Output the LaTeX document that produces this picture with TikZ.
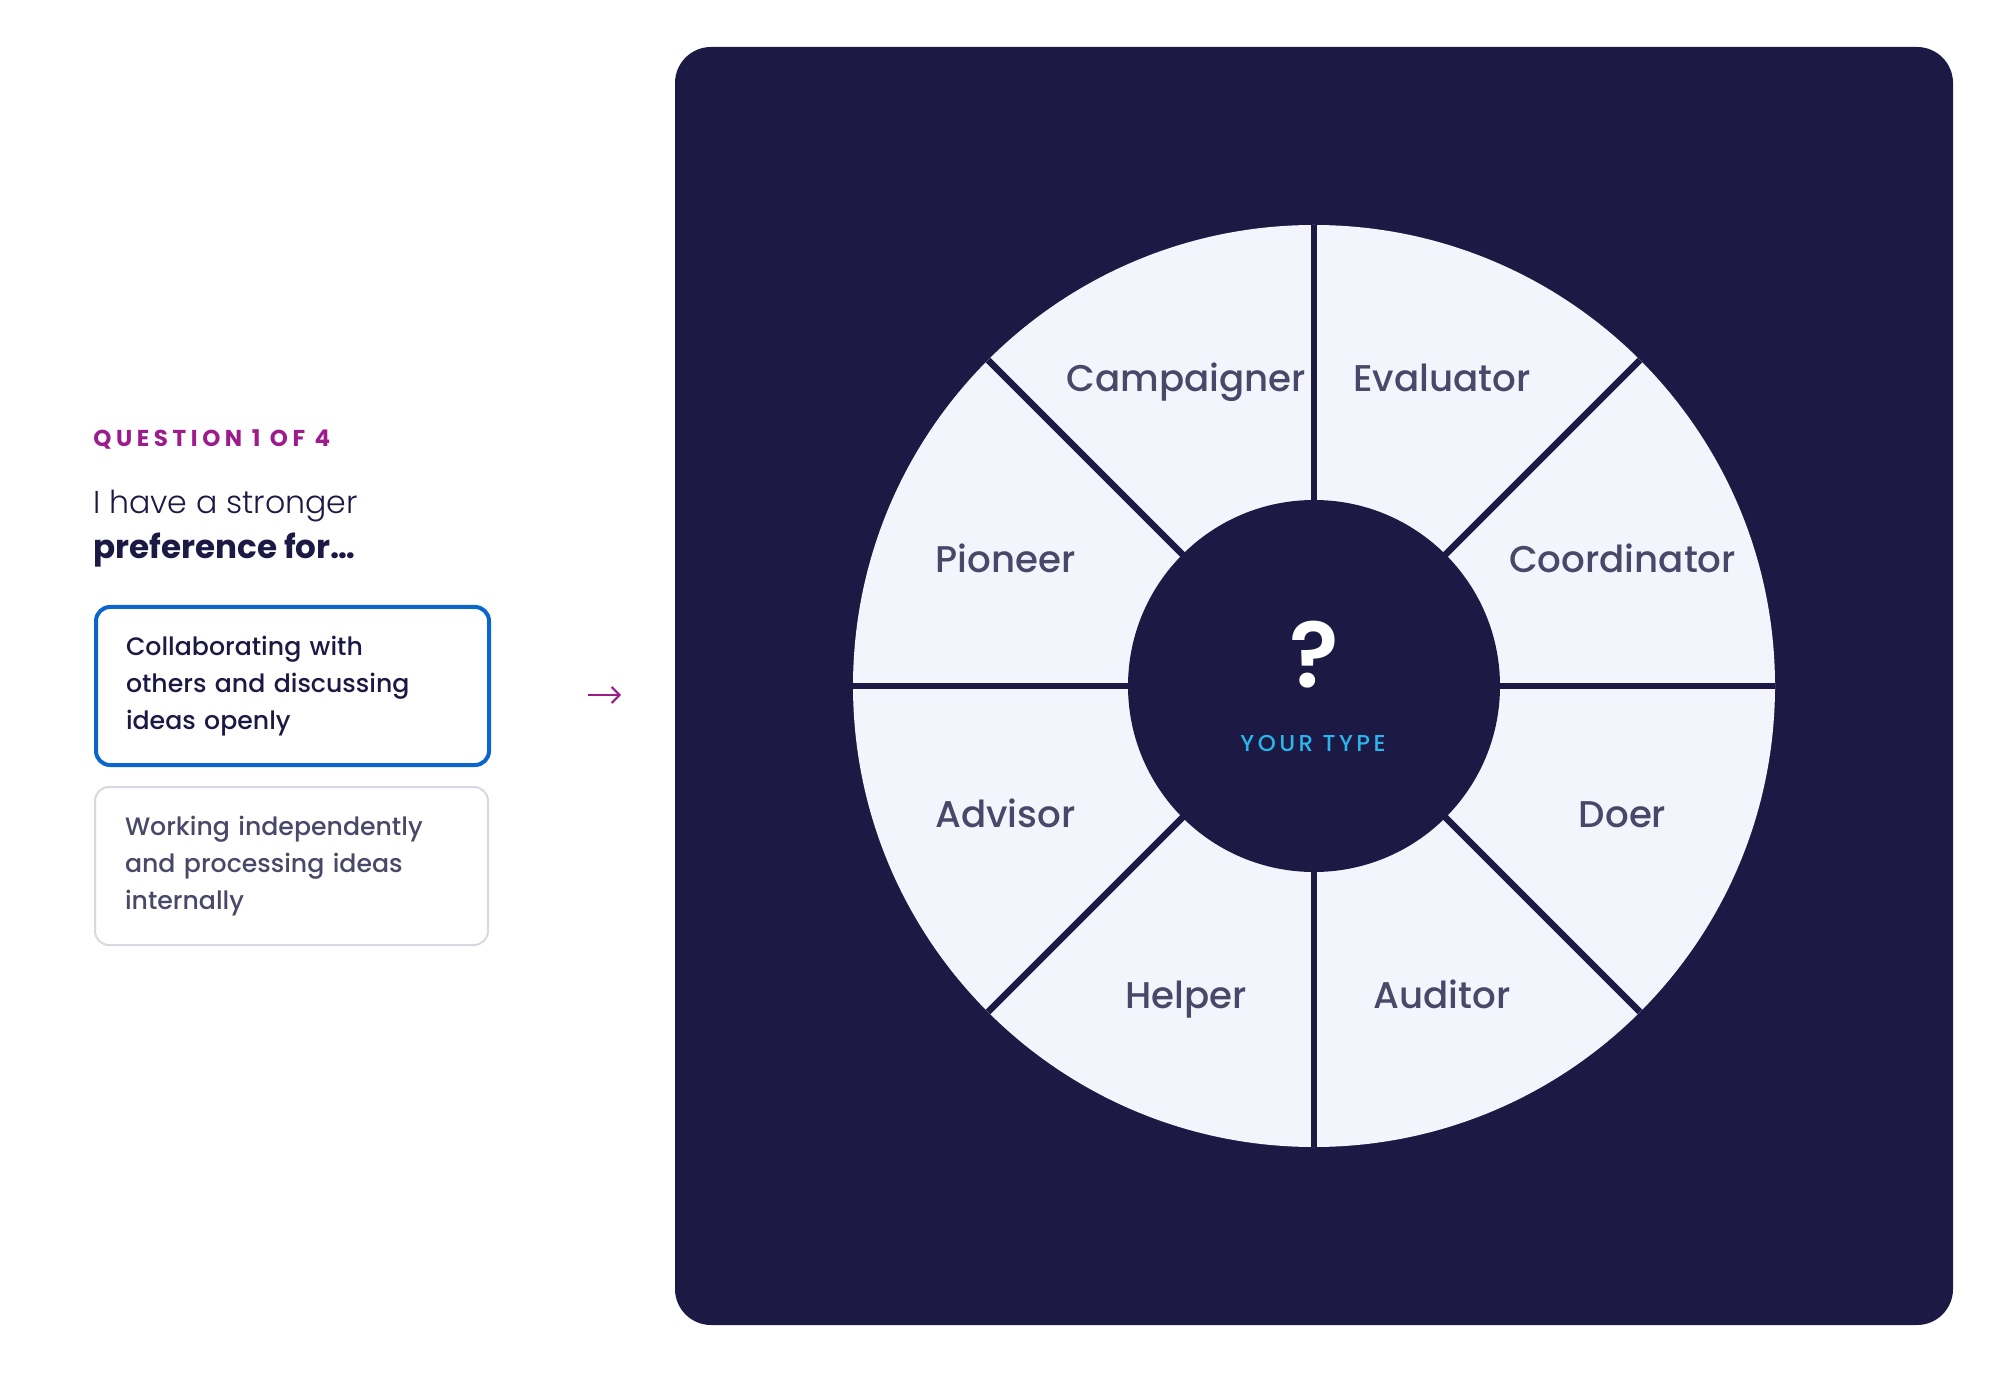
\documentclass[tikz,border=0pt]{standalone}
\usepackage{fontspec}
\setmainfont{Poppins}
\newfontfamily\lightfont{Poppins Light}
\newfontfamily\mediumfont{Poppins Medium}
\newfontfamily\semifont{Poppins SemiBold}
\usetikzlibrary{arrows.meta,calc}
\definecolor{panelnavy}{HTML}{1C1A44}
\definecolor{wheelfill}{HTML}{F4F4FC}
\definecolor{labelgray}{HTML}{4A4868}
\definecolor{qpurple}{HTML}{9C1C8C}
\definecolor{pickblue}{HTML}{0A66CC}
\definecolor{boxgray}{HTML}{D8D8E0}
\definecolor{typecyan}{HTML}{2CB5EC}
\tikzset{
 panel/.style={fill=panelnavy,rounded corners=18pt},
 divider/.style={draw=panelnavy,line width=3.2pt},
 hub/.style={circle,fill=panelnavy,minimum size=186pt,inner sep=0},
 typelabel/.style={text=labelgray,font=\mediumfont\fontsize{18.6}{22}\selectfont,inner sep=0,anchor=base},
 qhead/.style={text=qpurple,font=\fontsize{11.5}{14}\selectfont\bfseries\addfontfeature{LetterSpace=20},inner sep=0,anchor=base west},
 prompt/.style={text=panelnavy,font=\fontsize{15.8}{20}\selectfont,inner sep=0,anchor=base west},
 optbox/.style={draw,rounded corners=7pt,minimum width=196.5pt,minimum height=79pt,text width=166.5pt,inner xsep=15pt,align=left,font=\mediumfont\fontsize{12.6}{18.5}\selectfont,anchor=north west},
 chosen/.style={draw=pickblue,line width=2pt,text=panelnavy},
 other/.style={draw=boxgray,line width=1pt,text=labelgray},
 pointer/.style={draw=qpurple,line width=1pt,-{Straight Barb[length=4pt,width=8pt]}},
 qmark/.style={text=white,font=\semifont\fontsize{46}{50}\selectfont,inner sep=0},
 yourtype/.style={text=typecyan,font=\mediumfont\fontsize{11.5}{14}\selectfont\addfontfeature{LetterSpace=15},inner sep=0}
}
\begin{document}
\begin{tikzpicture}[x=0.5pt,y=0.5pt]
\path[use as bounding box] (0,0) rectangle (2000,1372);
% question column
\node[qhead] (qnum) at (93,925) {QUESTION 1 OF 4};
\node[prompt] (prompt) at (93,858) {\lightfont I have a stronger};
\node[prompt] (promptbold) at (93,813) {\fontsize{16.3}{20}\selectfont\bfseries preference for…};
\node[optbox,chosen] (optA) at (94,767) {Collaborating with\\ others and discussing\\ ideas openly};
\node[optbox,other] (optB) at (94,586) {Working independently\\ and processing ideas\\ internally};
\coordinate (tail) at (588,677);
\coordinate (tip) at (621,677);
\draw[pointer] (tail) -- (tip);
% type wheel
\fill[panel] (675,47) rectangle (1953,1325);
\coordinate (c) at (1314,686);
\fill[wheelfill] (c) circle[radius=461];
\foreach \a in {0,45,90,135}
  \draw[divider] ($(c)+(\a:461)$) -- ($(c)+(\a+180:461)$);
\node[hub] (hub) at (c) {};
\node[qmark] (qmark) at (1314,717) {?};
\node[yourtype] (yourtype) at (1313,629) {YOUR TYPE};
\foreach \name/\ang in {Coordinator/22.5,Evaluator/67.5,Campaigner/112.5,Pioneer/157.5,
  Advisor/202.5,Helper/247.5,Auditor/292.5,Doer/337.5}
  \node[typelabel] (\name) at ($(c)+(\ang:334)+(0,-14)$) {\name};
\end{tikzpicture}
\end{document}
